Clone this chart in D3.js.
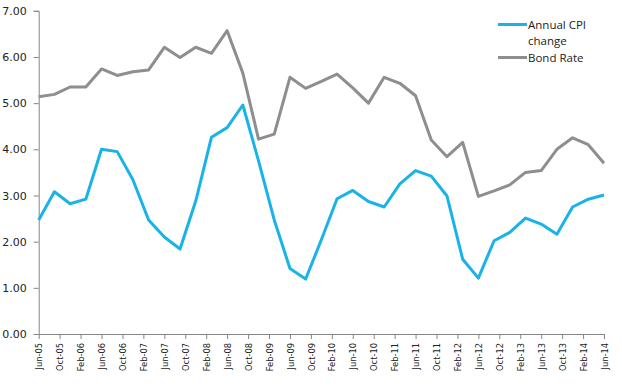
<!DOCTYPE html>
<html><head><meta charset="utf-8">
<script src="https://cdn.jsdelivr.net/npm/d3@7/dist/d3.min.js"></script>
<style>body{margin:0;background:#fff}svg{display:block}</style>
</head><body><svg id="c" width="622" height="392"></svg>
<script>
const quarters = ["Jun-05","Sep-05","Dec-05","Mar-06","Jun-06","Sep-06","Dec-06","Mar-07","Jun-07","Sep-07","Dec-07","Mar-08","Jun-08","Sep-08","Dec-08","Mar-09","Jun-09","Sep-09","Dec-09","Mar-10","Jun-10","Sep-10","Dec-10","Mar-11","Jun-11","Sep-11","Dec-11","Mar-12","Jun-12","Sep-12","Dec-12","Mar-13","Jun-13","Sep-13","Dec-13","Mar-14","Jun-14"];
const cpiChange = [2.47,3.08,2.82,2.92,4.00,3.95,3.34,2.47,2.10,1.84,2.88,4.26,4.47,4.96,3.75,2.47,1.42,1.19,2.04,2.93,3.11,2.87,2.75,3.25,3.54,3.42,2.99,1.62,1.21,2.02,2.20,2.51,2.38,2.16,2.75,2.92,3.01];
const bondRate = [5.14,5.19,5.35,5.35,5.74,5.60,5.68,5.72,6.21,5.99,6.21,6.08,6.57,5.65,4.22,4.33,5.56,5.32,5.47,5.63,5.33,5.00,5.56,5.43,5.16,4.20,3.84,4.15,2.98,3.10,3.23,3.50,3.54,4.00,4.25,4.10,3.70];
const tickLabels = ["Jun-05","Oct-05","Feb-06","Jun-06","Oct-06","Feb-07","Jun-07","Oct-07","Feb-08","Jun-08","Oct-08","Feb-09","Jun-09","Oct-09","Feb-10","Jun-10","Oct-10","Feb-11","Jun-11","Oct-11","Feb-12","Jun-12","Oct-12","Feb-13","Jun-13","Oct-13","Feb-14","Jun-14"];
const yTicks = [0,1,2,3,4,5,6,7];
const seriesNames = ["Annual CPI change","Bond Rate"];
const colors = ["#19b3e8","#8e8e90"];

const monthNames = ["Jan","Feb","Mar","Apr","May","Jun","Jul","Aug","Sep","Oct","Nov","Dec"];
function mIndex(s){const [m,y]=s.split("-");return (2000+ +y)*12+monthNames.indexOf(m);}
const m0 = mIndex(quarters[0]);

const svg = d3.select("#c");
const x = d3.scaleLinear().domain([0, mIndex("Jun-14")-m0]).range([38.7, 604]);
const y = d3.scaleLinear().domain([0,7]).range([334, 10.8]);
const axisColor = "#868686";

// y axis
const ya = svg.append("g").attr("transform","translate(38.7,0)")
  .call(d3.axisLeft(y).tickValues(yTicks).tickFormat(d3.format(".2f")).tickSize(5).tickPadding(7));
ya.select(".domain").attr("stroke",axisColor);
ya.selectAll(".tick line").attr("stroke",axisColor);
ya.selectAll("text").attr("font-family","DejaVu Sans").attr("font-size","11px").attr("fill","#222");

// x axis
const xa = svg.append("g").attr("transform","translate(0,334)")
  .call(d3.axisBottom(x).tickValues(tickLabels.map(t=>mIndex(t)-m0)).tickFormat((d,i)=>tickLabels[i]).tickSize(5).tickSizeOuter(0));
xa.select(".domain").attr("stroke",axisColor);
xa.selectAll(".tick line").attr("stroke",axisColor);
xa.selectAll("text").attr("font-family","DejaVu Sans").attr("font-size","8.3px").attr("fill","#222")
  .attr("transform","rotate(-90)").attr("text-anchor","end").attr("x",-9).attr("y",0).attr("dy","0.33em").attr("dx",0)
  .attr("dy","0.38em");

// lines
const pts = quarters.map(q=>mIndex(q)-m0);
[cpiChange,bondRate].forEach((vals,k)=>{
  const line = d3.line().x((d,i)=>x(pts[i])).y(d=>y(d));
  svg.append("path").datum(vals).attr("d",line).attr("fill","none")
    .attr("stroke",colors[k]).attr("stroke-width",3).attr("stroke-linejoin","round");
});

// legend
const lg = svg.append("g").attr("font-family","Open Sans").attr("font-size","11.5px").attr("fill","#222");
lg.append("line").attr("x1",498).attr("x2",527).attr("y1",24.5).attr("y2",24.5).attr("stroke",colors[0]).attr("stroke-width",3);
const t1 = lg.append("text").attr("x",528).attr("y",29);
t1.append("tspan").attr("x",528).text("Annual CPI");
t1.append("tspan").attr("x",528).attr("dy",16).text("change");
lg.append("line").attr("x1",498).attr("x2",527).attr("y1",57.5).attr("y2",57.5).attr("stroke",colors[1]).attr("stroke-width",3);
lg.append("text").attr("x",528).attr("y",62).text(seriesNames[1]);
</script></body></html>
